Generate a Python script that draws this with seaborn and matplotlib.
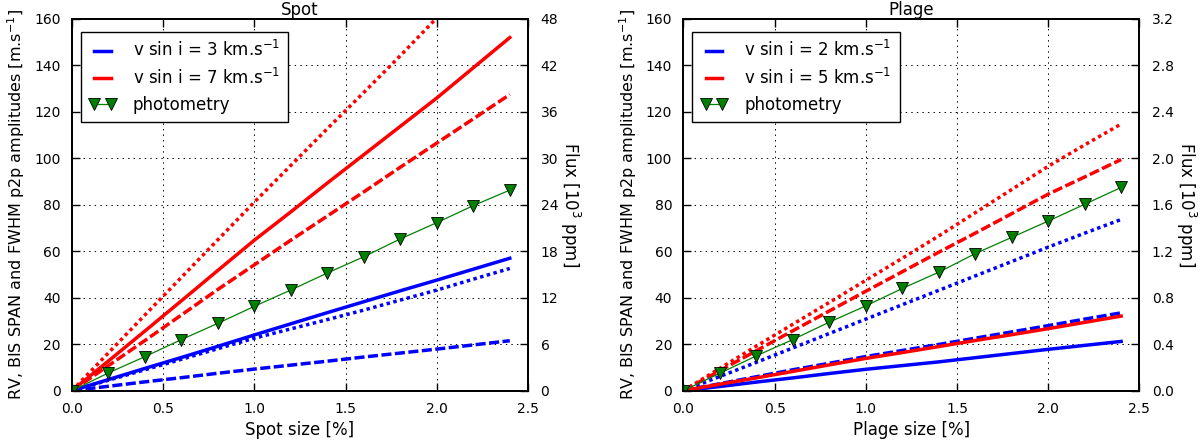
import numpy as np
import pandas as pd
import matplotlib
matplotlib.use("Agg")
import matplotlib.pyplot as plt
import seaborn as sns
from matplotlib.lines import Line2D

# ---------------- data ----------------
size = [0.0, 0.2, 0.4, 0.6, 0.8, 1.0, 1.2, 1.4, 1.6, 1.8, 2.0, 2.2, 2.4]

# Spot (m/s): solid = RV, dashed = BIS SPAN, dotted = FWHM
spot_rv_v3 = [0, 4.8, 9.6, 14.3, 19.1, 24.0, 28.8, 33.6, 38.3, 43.0, 47.6, 52.3, 57.0]
spot_bis_v3 = [0, 1.9, 3.8, 5.6, 7.5, 9.3, 11.0, 12.7, 14.5, 16.2, 17.9, 19.7, 21.5]
spot_fwhm_v3 = [0, 4.5, 9.0, 13.5, 18.1, 22.6, 26.6, 30.6, 34.7, 39.0, 43.3, 48.0, 52.6]
spot_rv_v7 = [0, 12.8, 25.7, 38.7, 51.8, 64.8, 77.0, 89.4, 101.6, 113.8, 126.0, 139.0, 152.0]
spot_bis_v7 = [0, 10.8, 21.6, 32.6, 43.6, 54.2, 64.8, 75.2, 85.6, 96.2, 106.6, 117.0, 127.5]
spot_fwhm_v7 = [0, 16.3, 32.6, 48.8, 65.0, 81.2, 97.0, 112.8, 128.4, 144.2, 160.5, 176.5, 192.5]
spot_flux = [0, 2.3, 4.4, 6.6, 8.7, 10.9, 13.0, 15.2, 17.3, 19.6, 21.7, 23.9, 25.9]

# Plage (m/s)
plage_rv_v2 = [0, 1.8, 3.7, 5.5, 7.4, 9.2, 10.8, 12.4, 14.2, 16.0, 17.8, 19.5, 21.2]
plage_bis_v2 = [0, 3.0, 6.0, 9.0, 11.8, 14.7, 17.3, 19.9, 22.6, 25.3, 28.0, 30.8, 33.5]
plage_fwhm_v2 = [0, 6.1, 12.2, 18.4, 24.6, 30.8, 37.0, 43.2, 49.4, 55.6, 61.8, 67.8, 73.7]
plage_rv_v5 = [0, 2.8, 5.5, 8.3, 11.1, 13.9, 16.4, 19.0, 21.6, 24.1, 26.7, 29.4, 32.1]
plage_bis_v5 = [0, 8.6, 17.2, 25.8, 34.3, 42.8, 51.2, 59.6, 67.8, 76.2, 84.6, 92.0, 99.5]
plage_fwhm_v5 = [0, 9.6, 19.2, 28.6, 38.0, 47.5, 57.0, 66.6, 76.6, 86.6, 96.6, 105.8, 114.8]
plage_flux = [0, 0.15, 0.30, 0.44, 0.59, 0.73, 0.88, 1.02, 1.18, 1.32, 1.46, 1.605, 1.75]

titles = ["Spot", "Plage"]
xlabels = ["Spot size [%]", "Plage size [%]"]
vsini_labels = [["v sin i = 3 km.s$^{-1}$", "v sin i = 7 km.s$^{-1}$"],
                ["v sin i = 2 km.s$^{-1}$", "v sin i = 5 km.s$^{-1}$"]]
flux_max = [48, 3.2]
flux_ticks = [np.arange(0, 48.1, 6), np.arange(0, 3.21, 0.4)]

# ---------------- style ----------------
plt.rcParams["font.family"] = ["DejaVu Sans"]
plt.rcParams["lines.scale_dashes"] = False
plt.rcParams["axes.linewidth"] = 1.3

DASHED = (0, (7.25, 2.5))
DOTTED = (0, (2.5, 2.5))
GREEN = (0, 0.5, 0)

fig = plt.figure(figsize=(12.01, 4.47), dpi=100)
ax_pos = [[0.05995, 0.126, 0.3797, 0.8315], [0.569, 0.126, 0.3797, 0.8315]]

panels = [
    (spot_rv_v3, spot_bis_v3, spot_fwhm_v3, spot_rv_v7, spot_bis_v7, spot_fwhm_v7, spot_flux),
    (plage_rv_v2, plage_bis_v2, plage_fwhm_v2, plage_rv_v5, plage_bis_v5, plage_fwhm_v5, plage_flux),
]

for i, (rv1, bis1, fw1, rv2, bis2, fw2, flux) in enumerate(panels):
    ax = fig.add_axes(ax_pos[i])
    ax2 = ax.twinx()
    lw = 2.5
    series = [(rv1, "blue", "-"), (bis1, "blue", DASHED), (fw1, "blue", DOTTED),
              (rv2, "red", "-"), (bis2, "red", DASHED), (fw2, "red", DOTTED)]
    for y, c, ls in series:
        sns.lineplot(x=size, y=y, ax=ax, color=c, linestyle=ls, lw=lw,
                     errorbar=None, legend=False, dash_capstyle="butt")
    sns.lineplot(x=size, y=flux, ax=ax2, color=GREEN, lw=0.9, marker="v",
                 markersize=8, markerfacecolor=GREEN, markeredgecolor="k",
                 markeredgewidth=0.6, errorbar=None, legend=False)

    ax.set_xlim(0, 2.5)
    ax.set_ylim(0, 160)
    ax.set_xticks(np.arange(0, 2.51, 0.5))
    ax.set_yticks(np.arange(0, 161, 20))
    ax2.set_ylim(0, flux_max[i])
    ax2.set_yticks(flux_ticks[i])

    ax.grid(True, color="k", linestyle=(0, (1, 3)), linewidth=0.7)
    ax2.grid(False)
    ax.tick_params(direction="in", top=True, right=False, length=6, width=1,
                   labelsize=10, pad=8)
    ax2.tick_params(direction="in", length=6, width=1, labelsize=10, pad=9)

    ax.set_title(titles[i], fontsize=12, pad=1)
    ax.set_xlabel(xlabels[i], fontsize=12)
    ax.set_ylabel("RV, BIS SPAN and FWHM p2p amplitudes [m.s$^{-1}$]", fontsize=11.5,
                  labelpad=5)
    ax2.set_ylabel("Flux [10$^3$ ppm]", fontsize=12, rotation=270, va="bottom", labelpad=0)

    handles = [Line2D([], [], color="blue", lw=lw),
               Line2D([], [], color="red", lw=lw),
               Line2D([], [], color=GREEN, lw=0.9, marker="v", markersize=8,
                      markerfacecolor=GREEN, markeredgecolor="k", markeredgewidth=0.6)]
    leg = ax2.legend(handles, vsini_labels[i] + ["photometry"], loc="upper left",
                     bbox_to_anchor=(0.0197, 0.965), borderaxespad=0, fontsize=12,
                     handlelength=1.6, handletextpad=1.0, labelspacing=0.45,
                     numpoints=2, fancybox=False, framealpha=1, edgecolor="k",
                     borderpad=0.5)
    leg.get_frame().set_linewidth(1.0)

fig.savefig("out.png", dpi=100, facecolor="white")
